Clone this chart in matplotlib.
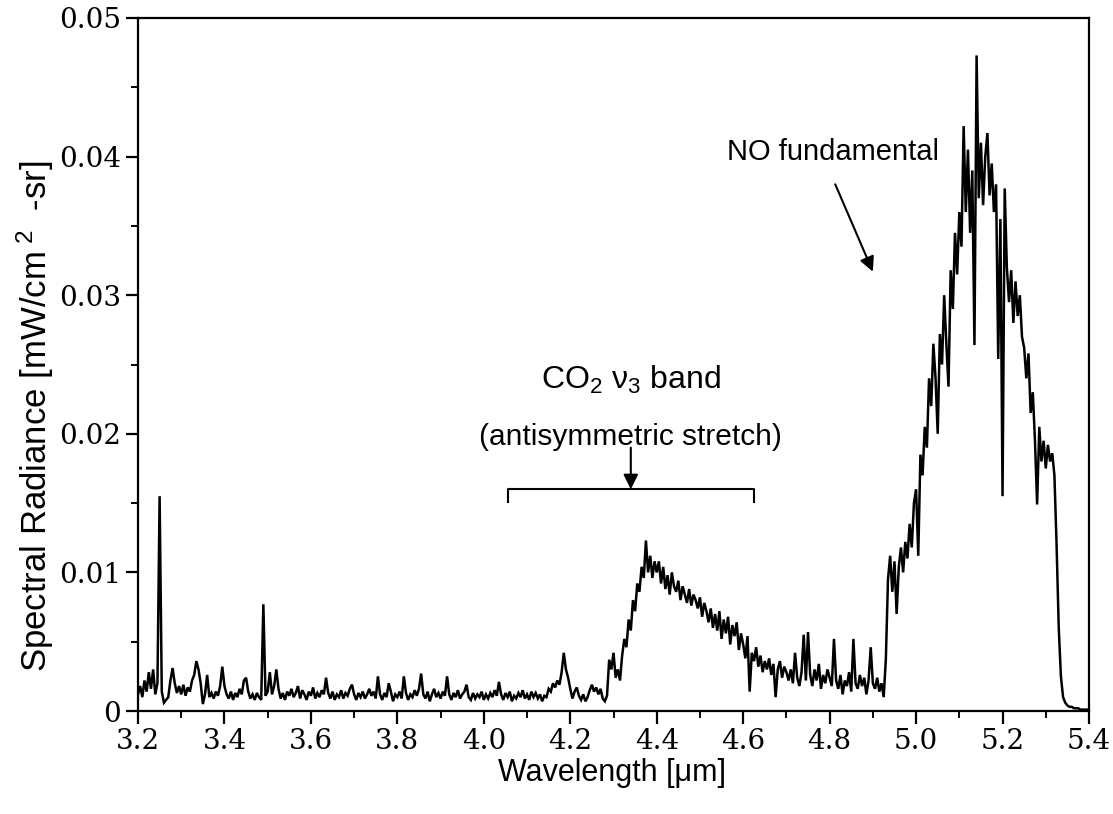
import numpy as np
import matplotlib
matplotlib.use('Agg')
import matplotlib.pyplot as plt
from matplotlib.ticker import MultipleLocator

# ---------------- data (radiance in units of 1e-4 mW/cm^2-sr) ----------------
wl_start = 3.2
wl_step = 0.005
radiance_e4 = [
    # 3.20 - 3.295
    12, 18, 10, 22, 14, 28, 16, 30, 12, 20, 155, 14, 6, 8, 10, 22, 31, 20, 13, 18,
    # 3.30
    12, 19, 11, 17, 14, 22, 26, 36, 30, 20, 5, 12, 26, 10, 13, 9, 14, 11, 18, 32,
    # 3.40
    18, 12, 9, 14, 8, 13, 10, 16, 12, 22, 24, 14, 9, 12, 8, 13, 10, 8, 77, 11,
    # 3.50
    14, 28, 12, 18, 30, 16, 9, 13, 8, 14, 11, 16, 10, 13, 18, 9, 15, 12, 8, 14,
    # 3.60
    11, 17, 9, 13, 10, 15, 12, 24, 13, 9, 14, 8, 12, 10, 15, 9, 13, 11, 16, 19,
    # 3.70
    12, 8, 13, 10, 14, 9, 12, 16, 11, 14, 9, 25, 12, 8, 13, 10, 20, 14, 7, 12,
    # 3.80
    10, 14, 9, 25, 13, 8, 12, 10, 15, 11, 16, 27, 12, 9, 14, 7, 12, 16, 10, 13,
    # 3.90
    9, 14, 11, 25, 12, 8, 13, 10, 15, 9, 12, 14, 19, 10, 8, 13, 9, 12, 10, 14,
    # 4.00
    8, 12, 9, 13, 10, 15, 11, 21, 12, 8, 13, 10, 14, 7, 11, 9, 13, 10, 15, 9,
    # 4.10
    12, 8, 14, 10, 13, 9, 12, 7, 11, 10, 16, 14, 20, 17, 22, 19, 28, 42, 30, 24,
    # 4.20
    16, 9, 14, 17, 11, 8, 12, 7, 10, 15, 19, 14, 17, 12, 16, 9, 7, 11, 37, 30,
    # 4.30
    42, 24, 30, 22, 40, 52, 46, 66, 58, 80, 72, 92, 86, 104, 96, 123, 100, 112, 96, 108,
    # 4.40
    100, 108, 92, 104, 88, 98, 84, 100, 90, 86, 94, 80, 90, 84, 78, 88, 76, 84, 80, 74,
    # 4.50
    82, 68, 78, 72, 64, 74, 60, 70, 58, 72, 52, 66, 56, 68, 48, 62, 54, 64, 44, 56,
    # 4.60
    48, 38, 54, 14, 42, 36, 46, 32, 40, 28, 36, 30, 38, 26, 34, 10, 30, 36, 24, 32,
    # 4.70
    28, 22, 30, 20, 42, 24, 18, 28, 55, 22, 57, 26, 18, 30, 22, 34, 16, 26, 20, 30,
    # 4.80
    24, 18, 52, 22, 16, 26, 12, 22, 18, 28, 14, 52, 20, 16, 26, 18, 24, 12, 22, 46,
    # 4.90
    20, 16, 24, 14, 20, 10, 37, 95, 112, 86, 108, 70, 104, 118, 100, 122, 110, 135, 118, 150,
    # 5.00
    160, 112, 185, 170, 205, 190, 240, 220, 265, 240, 200, 272, 250, 300, 265, 234, 318, 290, 345, 315,
    # 5.10
    360, 335, 422, 360, 405, 345, 390, 264, 473, 370, 410, 365, 400, 417, 372, 395, 360, 380, 254, 355,
    # 5.20
    155, 377, 320, 295, 318, 280, 310, 285, 300, 270, 262, 240, 258, 215, 230, 195, 149, 205, 180, 195,
    # 5.30
    175, 192, 180, 186, 170, 120, 60, 25, 10, 6, 4, 3, 3, 2, 2, 2, 1, 1, 1, 1,
    # 5.40
    1,
]
wavelength = wl_start + wl_step * np.arange(len(radiance_e4))
radiance = np.array(radiance_e4, dtype=float) * 1e-4

x_ticks = [3.2, 3.4, 3.6, 3.8, 4.0, 4.2, 4.4, 4.6, 4.8, 5.0, 5.2, 5.4]
x_tick_labels = ['3.2', '3.4', '3.6', '3.8', '4.0', '4.2', '4.4', '4.6', '4.8', '5.0', '5.2', '5.4']
y_ticks = [0, 0.01, 0.02, 0.03, 0.04, 0.05]
y_tick_labels = ['0', '0.01', '0.02', '0.03', '0.04', '0.05']

# annotation anchors (data coordinates)
co2_center = 4.34
co2_bracket = (4.056, 4.625)
no_text = (4.808, 0.0403)
no_arrow_start = (4.813, 0.0380)
no_arrow_end = (4.900, 0.0317)

# ---------------- styling ----------------
plt.rcParams['font.family'] = ['Liberation Sans', 'DejaVu Sans']
plt.rcParams['mathtext.fontset'] = 'custom'
plt.rcParams['mathtext.rm'] = 'Liberation Sans'
plt.rcParams['mathtext.it'] = 'Liberation Sans:italic'
plt.rcParams['mathtext.bf'] = 'Liberation Sans:bold'

fig = plt.figure(figsize=(11.13, 8.14), dpi=100)
ax = fig.add_axes([138 / 1113, 1 - 711 / 814, 951 / 1113, 693 / 814])

ax.plot(wavelength, radiance, color='black', lw=1.8, solid_joinstyle='miter')

ax.set_xlim(3.2, 5.4)
ax.set_ylim(0, 0.05)
ax.set_xticks(x_ticks)
ax.set_xticklabels(x_tick_labels)
ax.set_yticks(y_ticks)
ax.set_yticklabels(y_tick_labels)
ax.xaxis.set_minor_locator(MultipleLocator(0.1))
ax.yaxis.set_minor_locator(MultipleLocator(0.005))
ax.tick_params(which='major', direction='out', length=9, width=1.6, labelsize=20, pad=3)
ax.tick_params(which='minor', direction='out', length=5, width=1.4)
for lab in ax.get_xticklabels() + ax.get_yticklabels():
    lab.set_fontfamily('DejaVu Serif')
for s in ax.spines.values():
    s.set_linewidth(1.6)

ax.set_xlabel('Wavelength [μm]', fontsize=22)
ax.xaxis.set_label_coords(0.4984, -0.068)
ax.set_ylabel('Spectral Radiance [mW/cm$^{\\,\\,2}$  -sr]', fontsize=25)
ax.yaxis.set_label_coords(-0.086, 0.425)

# CO2 annotation
ax.text(co2_center, 0.0239, 'CO$_{2}$ ν$_{3}$ band', ha='center', va='center', fontsize=23)
ax.text(co2_center, 0.0198, '(antisymmetric stretch)', ha='center', va='center', fontsize=21.5)
ax.annotate('', xy=(co2_center, 0.0160), xytext=(co2_center, 0.0190),
            arrowprops=dict(arrowstyle='-|>', color='black', lw=1.5,
                            mutation_scale=22, shrinkA=0, shrinkB=0))
ax.plot([co2_bracket[0], co2_bracket[0], co2_bracket[1], co2_bracket[1]],
        [0.0151, 0.0160, 0.0160, 0.0151], color='black', lw=1.5)

# NO annotation
ax.text(no_text[0], no_text[1], 'NO fundamental', ha='center', va='center', fontsize=21)
ax.annotate('', xy=no_arrow_end, xytext=no_arrow_start,
            arrowprops=dict(arrowstyle='-|>', color='black', lw=1.5,
                            mutation_scale=22, shrinkA=0, shrinkB=0))

fig.savefig('out.png', dpi=100)
